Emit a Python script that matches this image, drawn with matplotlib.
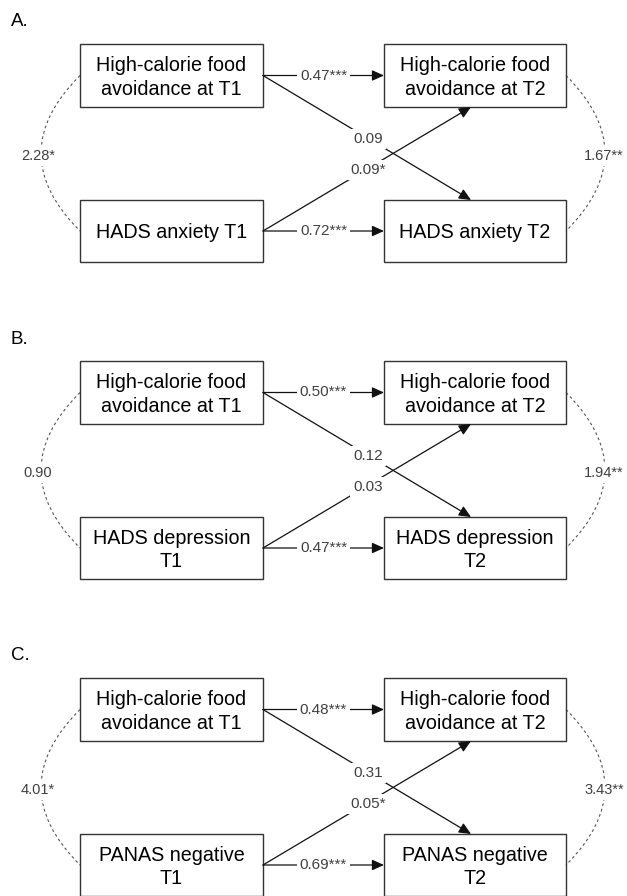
import matplotlib.pyplot as plt
from matplotlib.patches import Rectangle, PathPatch
from matplotlib.path import Path

plt.rcParams['font.family'] = ['Liberation Sans', 'DejaVu Sans']

# Data: one entry per panel
panel_letters = ['A.', 'B.', 'C.']
t1_outcome = ['HADS anxiety T1', 'HADS depression\nT1', 'PANAS negative\nT1']
t2_outcome = ['HADS anxiety T2', 'HADS depression\nT2', 'PANAS negative\nT2']
avoid_t1 = 'High-calorie food\navoidance at T1'
avoid_t2 = 'High-calorie food\navoidance at T2'
stab_avoid = ['0.47***', '0.50***', '0.48***']
stab_outcome = ['0.72***', '0.47***', '0.69***']
cross_avoid_to_outcome = ['0.09', '0.12', '0.31']
cross_outcome_to_avoid = ['0.09*', '0.03', '0.05*']
cov_t1 = ['2.28*', '0.90', '4.01*']
cov_t2 = ['1.67**', '1.94**', '3.43**']

fig = plt.figure(figsize=(6.27, 8.96), dpi=100)
ax = fig.add_axes([0, 0, 1, 1])
ax.set_xlim(0, 627)
ax.set_ylim(896, 0)
ax.axis('off')

# layout in pixels
offsets = [0, 317, 634]
lx0, lx1 = 80, 263
rx0, rx1 = 384, 566
top_y0, top_y1 = 44, 107
bot_y0, bot_y1 = 200, 262
lab_col = '#404040'
lab_size = 11
arrow = dict(arrowstyle='-|>,head_length=0.6,head_width=0.27', mutation_scale=12,
             lw=0.9, color='#111111', shrinkA=0, shrinkB=0)
wbox = dict(boxstyle='square,pad=0.2', fc='white', ec='none')


def box(x0, x1, y0, y1, text):
    ax.add_patch(Rectangle((x0, y0), x1 - x0, y1 - y0, fill=False, ec='#333333', lw=1.0, zorder=3))
    ax.text((x0 + x1) / 2, (y0 + y1) / 2 + 2, text, ha='center', va='center',
            fontsize=14.2, linespacing=1.32, zorder=4)


def arc(x, ya, yb, ctrl_x, text, label_x):
    p = Path([(x, ya), (ctrl_x, (ya + yb) / 2), (x, yb)], [Path.MOVETO, Path.CURVE3, Path.CURVE3])
    ax.add_patch(PathPatch(p, fill=False, ec='#555555', lw=0.8, ls=(0, (2.5, 2.5))))
    ax.text(label_x, (ya + yb) / 2 + 3, text, ha='center', va='center', fontsize=10.5,
            color=lab_col, bbox=wbox, zorder=5)


for i, off in enumerate(offsets):
    ax.text(11, 22 + off, panel_letters[i], ha='left', va='center', fontsize=13.5)
    ty0, ty1 = top_y0 + off, top_y1 + off
    by0, by1 = bot_y0 + off, bot_y1 + off
    ty = (ty0 + ty1) / 2
    by = (by0 + by1) / 2
    box(lx0, lx1, ty0, ty1, avoid_t1)
    box(rx0, rx1, ty0, ty1, avoid_t2)
    box(lx0, lx1, by0, by1, t1_outcome[i])
    box(rx0, rx1, by0, by1, t2_outcome[i])

    # stability paths
    for y, lab in [(ty, stab_avoid[i]), (by, stab_outcome[i])]:
        ax.annotate('', xy=(rx0, y), xytext=(lx1, y), arrowprops=arrow)
        ax.text((lx1 + rx0) / 2, y, lab, ha='center', va='center', fontsize=lab_size,
                color=lab_col, bbox=wbox, zorder=5)

    # cross-lagged paths
    tip_x = 471
    ax.annotate('', xy=(tip_x, by0), xytext=(lx1, ty), arrowprops=arrow)
    ax.annotate('', xy=(tip_x, ty1), xytext=(lx1, by), arrowprops=arrow)
    mx = (lx1 + tip_x) / 2 + 1
    ax.text(mx, (ty + by0) / 2 + 1, cross_avoid_to_outcome[i], ha='center', va='center',
            fontsize=lab_size, color=lab_col, bbox=wbox, zorder=5)
    ax.text(mx, (by + ty1) / 2 + 1, cross_outcome_to_avoid[i], ha='center', va='center',
            fontsize=lab_size, color=lab_col, bbox=wbox, zorder=5)

    # covariances
    arc(lx0, ty, by, 2, cov_t1[i], 38)
    arc(rx1, ty, by, 644, cov_t2[i], 604)

plt.savefig('out.png', dpi=100)
